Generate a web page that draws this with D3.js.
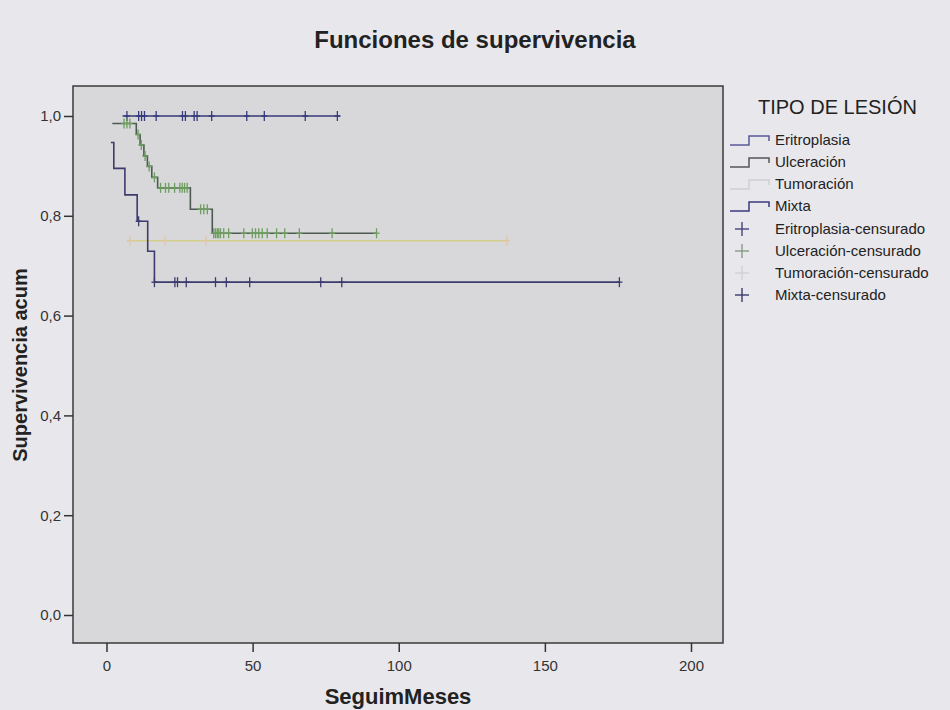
<!DOCTYPE html>
<html>
<head>
<meta charset="utf-8">
<script src="https://cdn.jsdelivr.net/npm/d3@7"></script>
<style>
  body { margin: 0; background: #e8e8ec; }
  svg { display: block; font-family: "Liberation Sans", Arial, sans-serif; }
</style>
</head>
<body>
<script>
// tick labels
var xTicks = [0, 50, 100, 150, 200];
var yTicks = [0, 0.2, 0.4, 0.6, 0.8, 1.0];

// groups
var groups = ["Eritroplasia", "Ulceración", "Tumoración", "Mixta"];

// step curves: time of each step and survival after it (last = end of follow-up)
var eritroTimes = [5.5, 80];
var eritroSurv = [1.0, 1.0];
var eritroCens = [7, 11, 12, 13, 17, 26, 27, 30, 31, 36, 48, 54, 68, 79];

var ulcerTimes = [2, 10.2, 11.5, 12.8, 14, 15.5, 17.5, 28.7, 36.2, 92.4];
var ulcerSurv = [0.985, 0.963, 0.942, 0.920, 0.899, 0.877, 0.856, 0.813, 0.765, 0.765];
var ulcerCens = [6, 7, 8, 10.8, 11.9, 13.2, 14.6, 16.4, 18.5, 20.2, 21.3, 23.3, 25.1, 25.9,
  26.7, 27.6, 32.2, 33.3, 34.5, 36.7, 37.3, 37.9, 38.4, 39, 40.1, 41.8, 47, 49.9, 51, 52.1,
  53.3, 55, 58.2, 61, 66, 77.2, 92.4];

var tumorTimes = [7, 137];
var tumorSurv = [0.75, 0.75];
var tumorCens = [8, 20, 34, 137];

var mixtaTimes = [1.5, 2.5, 6.3, 10.5, 14.1, 16.4, 175.5];
var mixtaSurv = [0.947, 0.895, 0.842, 0.789, 0.729, 0.667, 0.667];
var mixtaCens = [11, 16.4, 23.4, 24.3, 27.3, 37.3, 41, 49, 73.3, 80.5, 175.5];

var series = [
  {name: groups[0], times: eritroTimes, surv: eritroSurv, cens: eritroCens, line: "#36397a", cross: "#36397a"},
  {name: groups[1], times: ulcerTimes, surv: ulcerSurv, cens: ulcerCens, line: "#4c5a50", cross: "#6c9e5e"},
  {name: groups[2], times: tumorTimes, surv: tumorSurv, cens: tumorCens, line: "#d4d089", cross: "#e0c6a6"},
  {name: groups[3], times: mixtaTimes, surv: mixtaSurv, cens: mixtaCens, line: "#3d3b6e", cross: "#3d3b6e"}
];

var W = 950, H = 710;
var plot = {left: 73, top: 86, right: 723, bottom: 643};

var svg = d3.select("body").append("svg")
  .attr("width", W)
  .attr("height", H);

var x = d3.scaleLinear().domain([-11.46, 210.95]).range([plot.left, plot.right]);
var y = d3.scaleLinear().domain([-0.0561, 1.0601]).range([plot.bottom, plot.top]);

// plot background
svg.append("rect")
  .attr("x", plot.left).attr("y", plot.top)
  .attr("width", plot.right - plot.left).attr("height", plot.bottom - plot.top)
  .attr("fill", "#d8d8da")
  .attr("stroke", "#3a3a3a")
  .attr("stroke-width", 1.5);

// axes
var xAxis = svg.append("g")
  .attr("transform", "translate(0," + plot.bottom + ")")
  .call(d3.axisBottom(x).tickValues(xTicks).tickSize(9).tickPadding(8).tickFormat(d3.format("d")));
var yAxis = svg.append("g")
  .attr("transform", "translate(" + plot.left + ",0)")
  .call(d3.axisLeft(y).tickValues(yTicks).tickSize(9).tickPadding(3)
    .tickFormat(function(d) { return d3.format(".1f")(d).replace(".", ","); }));

[xAxis, yAxis].forEach(function(g) {
  g.select(".domain").remove();
  g.selectAll(".tick line").attr("stroke", "#333").attr("stroke-width", 1.5);
  g.selectAll(".tick text").attr("fill", "#333").style("font-size", "15px");
});

// survival step function
function survAt(s, t) {
  var v = s.surv[0];
  for (var i = 0; i < s.times.length; i++) {
    if (s.times[i] <= t) v = s.surv[i];
  }
  return v;
}

var stepLine = d3.line()
  .x(function(d) { return x(d[0]); })
  .y(function(d) { return y(d[1]); })
  .curve(d3.curveStepAfter);

series.forEach(function(s) {
  var pts = s.times.map(function(t, i) { return [t, s.surv[i]]; });
  svg.append("path")
    .attr("d", stepLine(pts))
    .attr("fill", "none")
    .attr("stroke", s.line)
    .attr("stroke-width", 1.6);
});

series.forEach(function(s) {
  var g = svg.append("g").attr("stroke", s.cross).attr("stroke-width", 1.3);
  s.cens.forEach(function(t) {
    var cx = x(t), cy = y(survAt(s, t));
    g.append("line").attr("x1", cx).attr("x2", cx).attr("y1", cy - 5).attr("y2", cy + 5);
    g.append("line").attr("x1", cx - 3).attr("x2", cx + 3).attr("y1", cy).attr("y2", cy);
  });
});

// titles
svg.append("text")
  .attr("x", 475).attr("y", 48)
  .attr("text-anchor", "middle")
  .attr("font-weight", "bold")
  .style("font-size", "24px")
  .attr("fill", "#222")
  .text("Funciones de supervivencia");

svg.append("text")
  .attr("x", 398).attr("y", 704)
  .attr("text-anchor", "middle")
  .attr("font-weight", "bold")
  .style("font-size", "22px")
  .attr("fill", "#222")
  .text("SeguimMeses");

svg.append("text")
  .attr("transform", "translate(27,365) rotate(-90)")
  .attr("text-anchor", "middle")
  .attr("font-weight", "bold")
  .style("font-size", "20px")
  .attr("fill", "#222")
  .text("Supervivencia acum");

// legend
var legend = svg.append("g");
legend.append("text")
  .attr("x", 758).attr("y", 114)
  .style("font-size", "20px")
  .attr("fill", "#222")
  .text("TIPO DE LESIÓN");

var legendLine = ["#5a5a98", "#555555", "#cfcfcf", "#3a3a80"];
var legendCross = ["#44447e", "#8a9a88", "#d2d2d2", "#3a3a70"];
var legendRows = [140, 162, 184, 206, 229, 251, 273, 295];

groups.forEach(function(name, i) {
  var cy = legendRows[i];
  legend.append("path")
    .attr("d", "M730," + (cy + 5) + "H749V" + (cy - 4) + "H769V" + (cy + 1))
    .attr("fill", "none")
    .attr("stroke", legendLine[i])
    .attr("stroke-width", 1.5);
  legend.append("text")
    .attr("x", 775).attr("y", cy + 5)
    .style("font-size", "15px")
    .attr("fill", "#222")
    .text(name);
});

groups.forEach(function(name, i) {
  var cy = legendRows[i + 4];
  legend.append("line").attr("x1", 742).attr("x2", 742).attr("y1", cy - 7).attr("y2", cy + 7)
    .attr("stroke", legendCross[i]).attr("stroke-width", 1.4);
  legend.append("line").attr("x1", 735).attr("x2", 749).attr("y1", cy).attr("y2", cy)
    .attr("stroke", legendCross[i]).attr("stroke-width", 1.4);
  legend.append("text")
    .attr("x", 775).attr("y", cy + 5)
    .style("font-size", "15px")
    .attr("fill", "#222")
    .text(name + "-censurado");
});
</script>
</body>
</html>
